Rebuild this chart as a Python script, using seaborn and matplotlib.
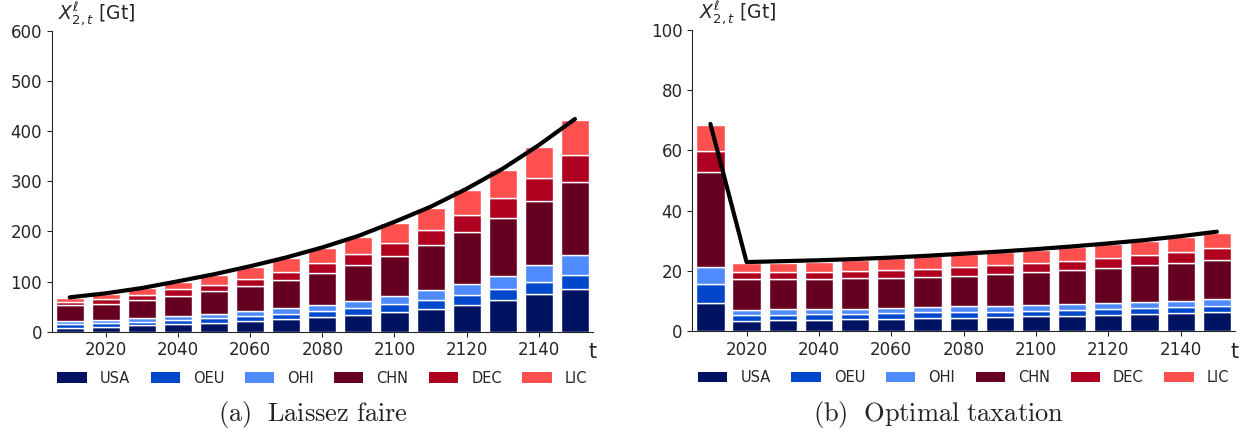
import numpy as np
import pandas as pd
import matplotlib
matplotlib.use("Agg")
import matplotlib.pyplot as plt
from matplotlib.patches import Patch
import seaborn as sns

years = [2010, 2020, 2030, 2040, 2050, 2060, 2070, 2080, 2090, 2100, 2110, 2120, 2130, 2140, 2150]
regions = ["USA", "OEU", "OHI", "CHN", "DEC", "LIC"]
colors = ["#001363", "#0047CC", "#4F8BFF", "#660021", "#B0001F", "#FF5050"]

# (a) Laissez faire
lf_usa = [8, 10, 13, 15, 18, 21, 25, 29, 33, 39, 45, 54, 63, 75, 86]
lf_oeu = [7, 8, 7, 8, 9, 10, 10, 12, 14, 16, 18, 19, 22, 25, 28]
lf_ohi = [6, 6, 7.5, 9, 8, 10, 12, 13, 15, 17, 20, 23, 27, 32, 38]
lf_chn = [32, 32, 35.5, 39, 46, 50, 56, 62, 71, 79, 90, 103, 115, 128, 146]
lf_dec = [7, 9.5, 10.5, 13.5, 12, 15, 15, 20, 21, 25, 29, 33, 39, 46, 54]
lf_lic = [8, 10, 13, 15.5, 20, 23.5, 28, 30, 35, 40, 45, 50, 56, 63, 70]
lf_total = [68.5, 76.5, 87, 100.5, 114.5, 130.5, 148, 168, 191, 219, 249, 285, 325, 372, 424]

# (b) Optimal taxation
ot_usa = [9.4, 3.4, 3.5, 3.6, 3.9, 4.1, 4.3, 4.4, 4.7, 4.9, 5.1, 5.4, 5.6, 6.0, 6.3]
ot_oeu = [6.2, 1.8, 1.9, 1.9, 1.7, 1.9, 1.9, 1.9, 1.7, 1.8, 1.9, 1.9, 1.9, 1.9, 1.9]
ot_ohi = [5.7, 1.8, 1.8, 1.8, 1.8, 1.7, 1.7, 1.9, 1.9, 1.9, 2.0, 2.0, 2.1, 2.2, 2.4]
ot_chn = [31.5, 10.3, 10.2, 10.1, 10.1, 10.0, 10.1, 10.2, 10.7, 11.1, 11.3, 11.6, 12.2, 12.5, 13.0]
ot_dec = [7.0, 2.4, 2.2, 2.2, 2.3, 2.6, 2.7, 2.9, 2.9, 2.9, 3.1, 3.5, 3.3, 3.5, 3.9]
ot_lic = [8.5, 2.8, 3.0, 3.4, 3.8, 3.8, 4.1, 4.2, 4.3, 4.4, 4.6, 4.5, 4.8, 5.1, 5.0]
ot_total = [68.8, 22.9, 23.2, 23.5, 23.9, 24.4, 25.0, 25.7, 26.4, 27.2, 28.1, 29.1, 30.2, 31.5, 33.0]

sns.set_style("ticks")
plt.rcParams["font.family"] = ["DejaVu Sans"]
plt.rcParams["mathtext.fontset"] = "dejavusans"

fig = plt.figure(figsize=(12.51, 4.33), dpi=100)
ax1 = fig.add_axes([0.0413, 0.234, 0.4327, 0.695])
ax2 = fig.add_axes([0.5534, 0.2356, 0.4338, 0.695])

palette = dict(zip(regions, colors))


def draw(ax, series, total, ymax, ystep):
    rows = []
    for reg, vals in zip(regions, series):
        for y, v in zip(years, vals):
            rows.append({"year": y, "value": v, "region": reg})
    df = pd.DataFrame(rows)
    sns.histplot(data=df, x="year", weights="value", hue="region",
                 hue_order=regions[::-1], palette=palette, multiple="stack",
                 binwidth=10, binrange=(2005, 2155), shrink=0.78, alpha=1,
                 edgecolor="white", linewidth=1.0, legend=False, ax=ax)
    sns.lineplot(x=years, y=total, color="black", linewidth=3, ax=ax)
    ax.set_xlim(2005, 2155)
    ax.set_ylim(0, ymax)
    ax.set_yticks(np.arange(0, ymax + 1, ystep))
    ax.set_xticks(np.arange(2020, 2150, 20))
    ax.set_xlabel("")
    ax.set_ylabel("")
    ax.tick_params(labelsize=12)
    sns.despine(ax=ax)
    ax.text(0.012, 1.01, r"$X^{\ell}_{2,t}$ [Gt]", transform=ax.transAxes,
            ha="left", va="bottom", fontsize=13.5)
    ax.text(1.0, -0.035, "t", transform=ax.transAxes, ha="center", va="top",
            fontsize=15)
    handles = [Patch(facecolor=c, edgecolor="none") for c in colors]
    ax.legend(handles, regions, ncol=6, loc="upper left",
              bbox_to_anchor=(0.0, -0.16, 1.0, 0.05), mode="expand",
              frameon=False, fontsize=10.5, handlelength=2.0,
              handletextpad=0.9, borderaxespad=0.0)


draw(ax1, [lf_usa, lf_oeu, lf_ohi, lf_chn, lf_dec, lf_lic], lf_total, 600, 100)
draw(ax2, [ot_usa, ot_oeu, ot_ohi, ot_chn, ot_dec, ot_lic], ot_total, 100, 20)

cap_kw = dict(ha="center", va="center", fontsize=19, color="#222222",
              math_fontfamily="cm")
fig.text(0.25, 1 - 415 / 433, r"$\mathrm{(a)\ \ Laissez\ faire}$", **cap_kw)
fig.text(0.75, 1 - 415 / 433, r"$\mathrm{(b)\ \ Optimal\ taxation}$", **cap_kw)

fig.savefig("out.png", dpi=100)
